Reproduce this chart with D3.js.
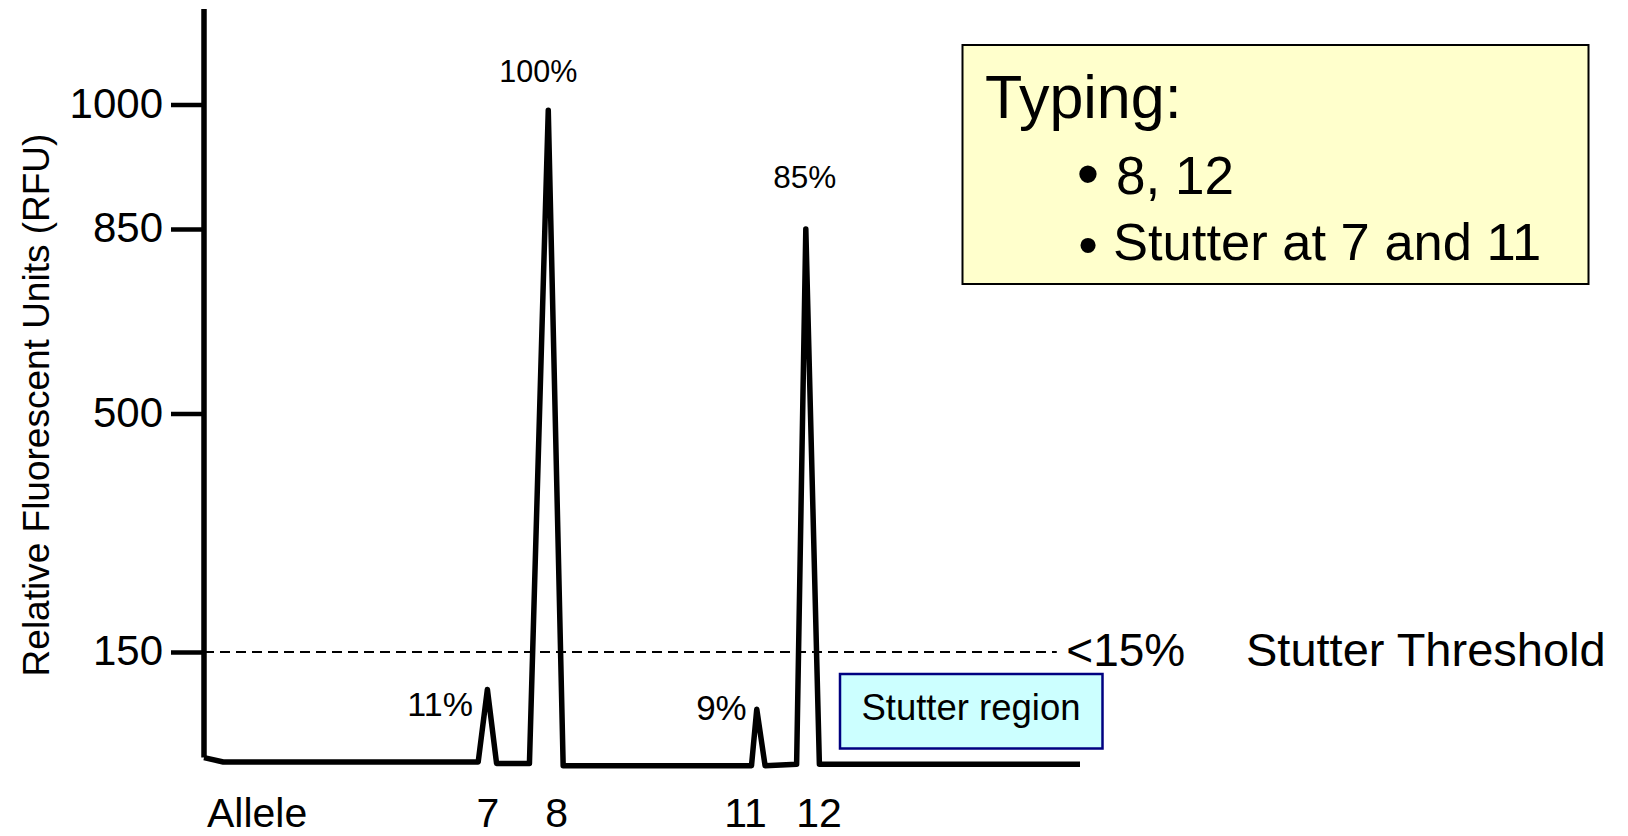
<!DOCTYPE html>
<html>
<head>
<meta charset="utf-8">
<script src="https://cdn.jsdelivr.net/npm/d3@7"></script>
<style>
  html, body { margin: 0; padding: 0; background: #ffffff; }
  svg { display: block; }
  text { font-family: "Liberation Sans", Arial, Helvetica, sans-serif; fill: #000; }
</style>
</head>
<body>
<svg id="chart" width="1628" height="836"></svg>
<script>
// ---- Data ----
// trace: fragment size (bp) vs relative fluorescence (RFU)
const traceSize = [100, 104.4, 162.6, 164.7, 166.8, 174.3, 178.6, 182.0, 225.0, 226.2, 228.1, 235.3, 237.4, 240.5, 300];
const traceRFU  = [6,   0,     0,     99,    -2,    -2,    993,   -5,    -5,    72,    -5,    -3,    850,   -3,    -3];

const yTickValues = [150, 500, 850, 1000];
const yTickLabels = ["150", "500", "850", "1000"];
const yAxisTop = 1115;

const alleleLabels = ["7", "8", "11", "12"];
const alleleSizes  = [164.7, 180.4, 223.5, 240.3];

const peakLabels   = ["100%", "85%", "11%", "9%"];
const peakIndex    = [6, 12, 3, 9];

const stutterThreshold = 150;
const thresholdEnd = 294.7;        // bp where the dashed threshold line stops

const typingTitle = "Typing:";
const typingItems = ["8, 12", "Stutter at 7 and 11"];

// ---- Scales ----
const x = d3.scaleLinear().domain([100, 300]).range([204, 1080]);
// schematic (piecewise) RFU axis as drawn in the reference
const y = d3.scaleLinear().domain([0, 150, 500, 850, 1000]).range([762, 652, 413.5, 229, 104.5]);

const svg = d3.select("#chart");
const font = '"Liberation Sans", Arial, sans-serif';

// ---- Typing box ----
const tb = svg.append("g");
tb.append("rect").attr("x", 962.5).attr("y", 45).attr("width", 626).attr("height", 239)
  .attr("fill", "#ffffcc").attr("stroke", "#000").attr("stroke-width", 2);
tb.append("text").attr("x", 985).attr("y", 118).attr("font-size", 61).text(typingTitle);
const bulletY = [174, 245], bulletSize = [64, 56], itemY = [194, 260], itemSize = [53, 52.5], itemX = [1116, 1113];
typingItems.forEach((t, i) => {
  tb.append("text").attr("x", 1088).attr("y", bulletY[i] + bulletSize[i] * 0.34)
    .attr("text-anchor", "middle").attr("font-size", bulletSize[i]).text("\u2022");
  tb.append("text").attr("x", itemX[i]).attr("y", itemY[i]).attr("font-size", itemSize[i]).text(t);
});

// ---- Stutter region box ----
svg.append("rect").attr("x", 840).attr("y", 674).attr("width", 262.5).attr("height", 74.5)
  .attr("fill", "#ccffff").attr("stroke", "#000080").attr("stroke-width", 2.5);
svg.append("text").attr("x", 971).attr("y", 720).attr("text-anchor", "middle")
  .attr("font-size", 36.5).text("Stutter region");

// ---- Threshold line ----
svg.append("line")
  .attr("x1", x(100)).attr("x2", x(thresholdEnd))
  .attr("y1", y(stutterThreshold)).attr("y2", y(stutterThreshold))
  .attr("stroke", "#000").attr("stroke-width", 2).attr("stroke-dasharray", "10,6");
svg.append("text").attr("x", x(thresholdEnd) + 9.5).attr("y", y(stutterThreshold) + 14)
  .attr("font-size", 46).text("<15%");
svg.append("text").attr("x", 1246).attr("y", y(stutterThreshold) + 14)
  .attr("font-size", 47).text("Stutter Threshold");

// ---- Y axis ----
const yAxis = d3.axisLeft(y).tickValues(yTickValues)
  .tickFormat((d, i) => yTickLabels[i]).tickSize(33).tickPadding(8);
const gy = svg.append("g").attr("transform", `translate(${x(100)},0)`).call(yAxis);
gy.select(".domain").remove();
gy.selectAll(".tick line").attr("stroke", "#000").attr("stroke-width", 4.5);
gy.selectAll(".tick text").attr("font-size", 42).attr("font-family", font).attr("fill", "#000").attr("dy", "0.3em");
// axis spine
svg.append("line")
  .attr("x1", x(100)).attr("x2", x(100))
  .attr("y1", y(yAxisTop)).attr("y2", y(traceRFU[0]))
  .attr("stroke", "#000").attr("stroke-width", 5.5);

svg.append("text")
  .attr("transform", `translate(49,405) rotate(-90)`)
  .attr("text-anchor", "middle").attr("font-size", 37)
  .text("Relative Fluorescent Units (RFU)");

// ---- Trace ----
const pts = traceSize.map((s, i) => [s, traceRFU[i]]);
svg.append("path")
  .attr("d", d3.line().x(d => x(d[0])).y(d => y(d[1]))(pts))
  .attr("fill", "none").attr("stroke", "#000").attr("stroke-width", 5.5)
  .attr("stroke-linejoin", "round").attr("stroke-linecap", "butt");

// ---- Peak labels ----
const labelDx = [-10, -1, -14.5, -10];
const labelDy = [-28.5, -41.5, 26.5, 11];
const labelAnchor = ["middle", "middle", "end", "end"];
const labelSize = [30.5, 31.5, 34, 35];
peakLabels.forEach((t, i) => {
  const k = peakIndex[i];
  svg.append("text")
    .attr("x", x(traceSize[k]) + labelDx[i])
    .attr("y", y(traceRFU[k]) + labelDy[i])
    .attr("text-anchor", labelAnchor[i])
    .attr("font-size", labelSize[i]).text(t);
});

// ---- Allele axis ----
const xAxis = d3.axisBottom(x).tickValues(alleleSizes)
  .tickFormat((d, i) => alleleLabels[i]).tickSize(0).tickPadding(0);
const gx = svg.append("g").attr("transform", "translate(0,826.5)").call(xAxis);
gx.select(".domain").remove();
gx.selectAll(".tick text").attr("font-size", 41).attr("font-family", font).attr("fill", "#000").attr("dy", 0);
svg.append("text").attr("x", 207).attr("y", 826.5).attr("font-size", 41).text("Allele");
</script>
</body>
</html>
